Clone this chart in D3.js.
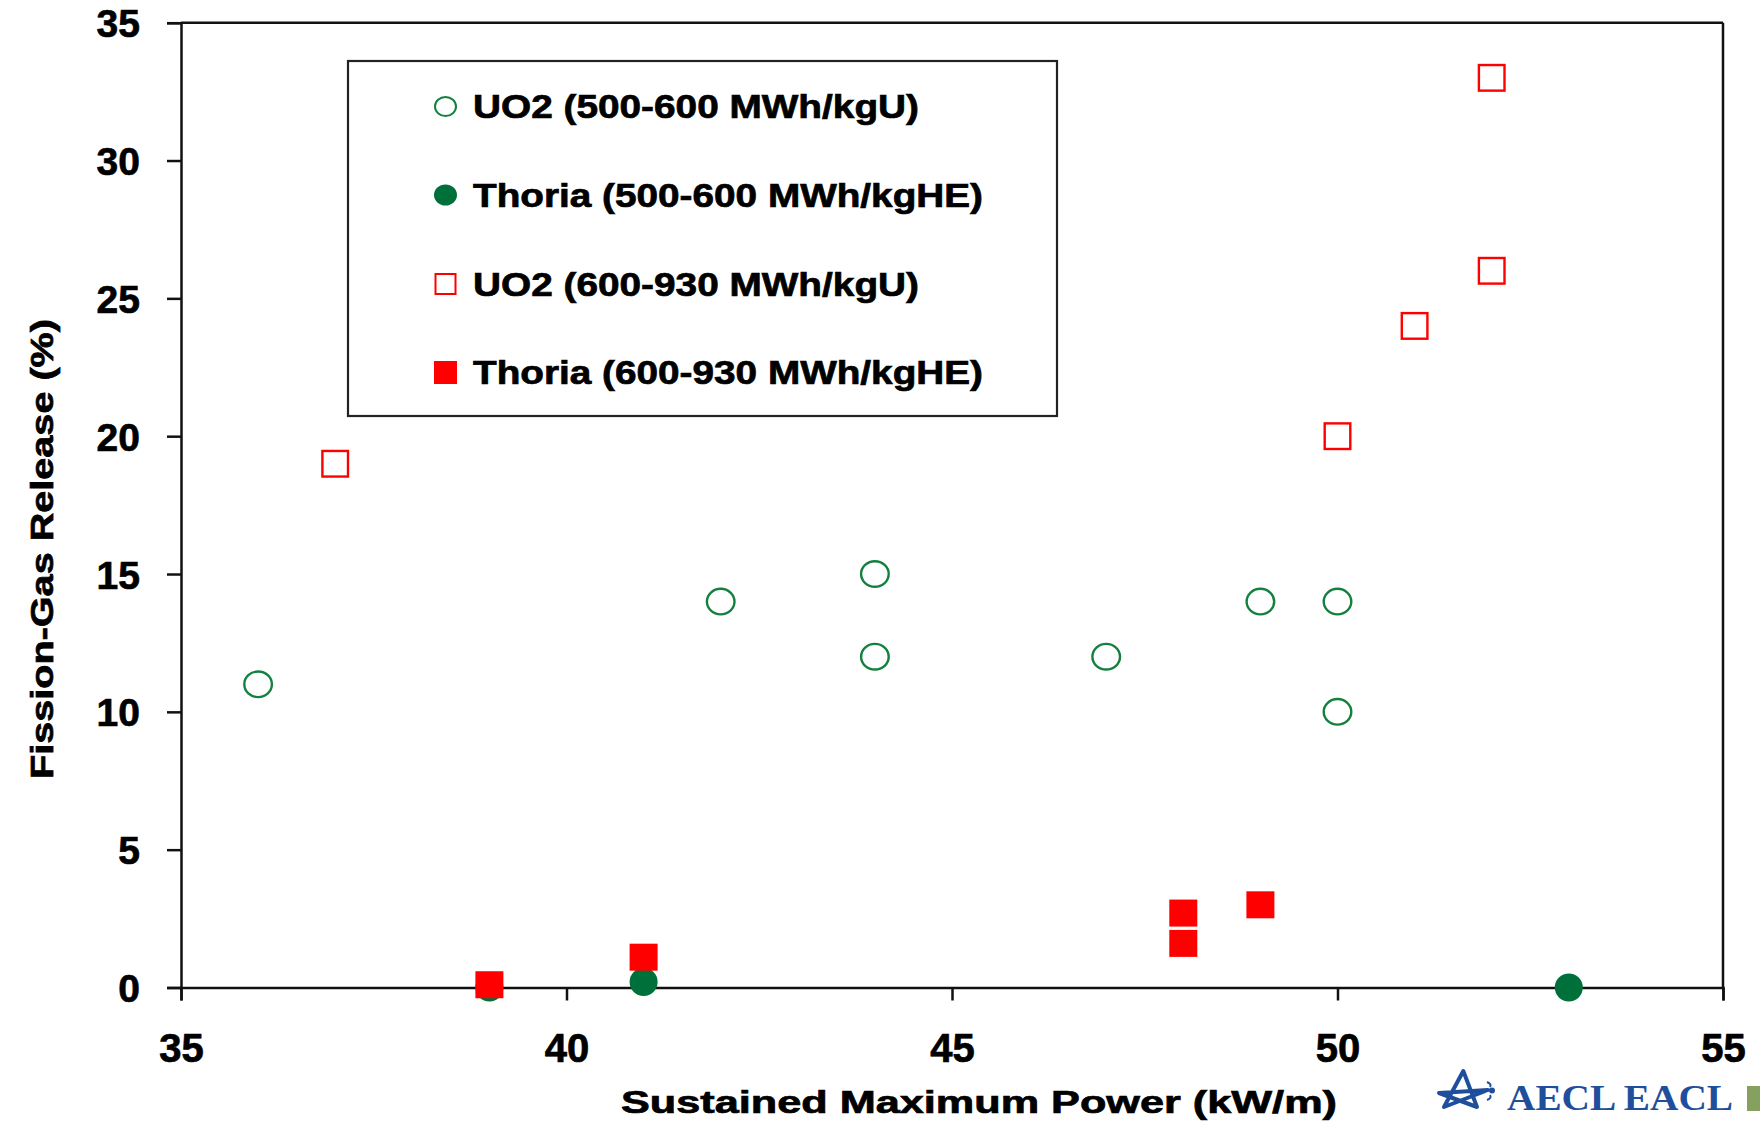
<!DOCTYPE html>
<html>
<head>
<meta charset="utf-8">
<script src="https://cdn.jsdelivr.net/npm/d3@7"></script>
<style>
  html, body { margin: 0; padding: 0; background: #fff; }
  svg { display: block; }
  text { font-family: "Liberation Sans", Arial, Helvetica, sans-serif; font-weight: bold; fill: #000; }
  .heavy { stroke: #000; stroke-width: 0.7px; paint-order: stroke; }
</style>
</head>
<body>
<svg id="chart" width="1760" height="1126"></svg>
<script>
// ---------- data ----------
const seriesNames = [
  "UO2 (500-600 MWh/kgU)",
  "Thoria (500-600 MWh/kgHE)",
  "UO2 (600-930 MWh/kgU)",
  "Thoria (600-930 MWh/kgHE)"
];
const uo2LowX    = [36, 42, 44, 44, 47, 49, 50, 50];
const uo2LowY    = [11, 14, 15, 12, 12, 14, 14, 10];
const thoriaLowX = [39, 41, 53];
const thoriaLowY = [0.0, 0.2, 0.0];
const uo2HighX   = [37, 50, 51, 52, 52];
const uo2HighY   = [19, 20, 24, 26, 33];
const thoriaHighX = [39, 41, 48, 48, 49];
const thoriaHighY = [0.1, 1.1, 1.6, 2.7, 3.0];
const xTicks = [35, 40, 45, 50, 55];
const yTicks = [0, 5, 10, 15, 20, 25, 30, 35];
const xTitle = "Sustained Maximum Power (kW/m)";
const yTitle = "Fission-Gas Release (%)";
const logoText = "AECL EACL";

// ---------- layout ----------
const svg = d3.select("#chart");
const pL = 181, pR = 1723, pT = 22.7, pB = 987.5;
const x = d3.scaleLinear().domain([35, 55]).range([pL, pR]);
const y = d3.scaleLinear().domain([0, 35]).range([pB, pT]);

const GREEN_OPEN = "#14803f";
const GREEN_FILL = "#00703a";
const RED = "#ff0000";
const AXIS = "#111";

// plot border (top & right)
svg.append("line").attr("x1", pL).attr("x2", pR).attr("y1", pT).attr("y2", pT)
  .attr("stroke", AXIS).attr("stroke-width", 2.5);
svg.append("line").attr("x1", pR).attr("x2", pR).attr("y1", pT).attr("y2", pB)
  .attr("stroke", AXIS).attr("stroke-width", 2.5);

// axes
const yAxis = d3.axisLeft(y).tickValues(yTicks).tickSize(14).tickPadding(27).tickFormat(d3.format("d"));
const xAxis = d3.axisBottom(x).tickValues(xTicks).tickSize(13).tickPadding(33).tickFormat(d3.format("d"));

const gy = svg.append("g").attr("transform", `translate(${pL},0)`).call(yAxis);
const gx = svg.append("g").attr("transform", `translate(0,${pB})`).call(xAxis);
[gx, gy].forEach(g => {
  g.select(".domain").attr("stroke", AXIS).attr("stroke-width", 2.5);
  g.selectAll(".tick line").attr("stroke", AXIS).attr("stroke-width", 2.5);
  g.selectAll(".tick text").attr("fill", "#000").attr("class", "heavy")
    .style("font-family", '"Liberation Sans", Arial, sans-serif').style("font-weight", "bold");
});
gy.selectAll(".tick text").style("font-size", "39px").attr("dy", "0.36em");
gx.selectAll(".tick text").style("font-size", "40px").attr("dy", "0.71em");

// axis titles
svg.append("text").attr("class", "heavy").attr("x", 621).attr("y", 1113)
  .style("font-size", "31px").attr("textLength", 716).attr("lengthAdjust", "spacingAndGlyphs")
  .text(xTitle);
svg.append("text").attr("class", "heavy").attr("transform", "translate(53,549) rotate(-90)")
  .attr("text-anchor", "middle")
  .style("font-size", "32px").attr("textLength", 460).attr("lengthAdjust", "spacingAndGlyphs")
  .text(yTitle);

// ---------- data marks ----------
const zip = (xs, ys) => xs.map((v, i) => ({x: v, y: ys[i]}));
const sq = 28;

// Thoria low (filled green circles) drawn first (hidden under red square at 39)
svg.append("g").selectAll("circle").data(zip(thoriaLowX, thoriaLowY)).join("circle")
  .attr("cx", d => x(d.x)).attr("cy", d => y(d.y)).attr("r", 14)
  .attr("fill", GREEN_FILL);

// UO2 low (open green circles)
svg.append("g").selectAll("ellipse").data(zip(uo2LowX, uo2LowY)).join("ellipse")
  .attr("cx", d => x(d.x)).attr("cy", d => y(d.y)).attr("rx", 13.8).attr("ry", 12.8)
  .attr("fill", "none").attr("stroke", GREEN_OPEN).attr("stroke-width", 2.4);

// UO2 high (open red squares)
svg.append("g").selectAll("rect").data(zip(uo2HighX, uo2HighY)).join("rect")
  .attr("x", d => x(d.x) - (sq - 2.4) / 2).attr("y", d => y(d.y) - (sq - 2.4) / 2)
  .attr("width", sq - 2.4).attr("height", sq - 2.4)
  .attr("fill", "none").attr("stroke", RED).attr("stroke-width", 2.4);

// Thoria high (filled red squares)
svg.append("g").selectAll("rect").data(zip(thoriaHighX, thoriaHighY)).join("rect")
  .attr("x", d => x(d.x) - sq / 2).attr("y", d => y(d.y) - 13.5)
  .attr("width", sq).attr("height", 27).attr("fill", RED);

// ---------- legend ----------
const lg = svg.append("g");
lg.append("rect").attr("x", 348).attr("y", 61).attr("width", 709).attr("height", 355)
  .attr("fill", "#fff").attr("stroke", "#222").attr("stroke-width", 2.2);
const rowY = [106.5, 195, 284, 372.5];
const textLens = [446, 510, 446, 510];
const mx = 445.5;
seriesNames.forEach((name, i) => {
  const cy = rowY[i];
  if (i === 0) {
    lg.append("ellipse").attr("cx", mx).attr("cy", cy).attr("rx", 10.5).attr("ry", 9.5)
      .attr("fill", "none").attr("stroke", GREEN_OPEN).attr("stroke-width", 2);
  } else if (i === 1) {
    lg.append("ellipse").attr("cx", mx).attr("cy", cy).attr("rx", 11.5).attr("ry", 10.5)
      .attr("fill", GREEN_FILL);
  } else if (i === 2) {
    lg.append("rect").attr("x", mx - 10).attr("y", cy - 10).attr("width", 20).attr("height", 20)
      .attr("fill", "none").attr("stroke", RED).attr("stroke-width", 2);
  } else {
    lg.append("rect").attr("x", mx - 11.5).attr("y", cy - 11.5).attr("width", 23).attr("height", 23)
      .attr("fill", RED);
  }
  lg.append("text").attr("class", "heavy").attr("x", 473).attr("y", cy + 11.8)
    .style("font-size", "33px").attr("textLength", textLens[i]).attr("lengthAdjust", "spacingAndGlyphs")
    .text(name);
});

// ---------- logo ----------
const LOGO = "#1f4f9c";
const logo = svg.append("g").attr("transform", "translate(1430,1060)");
logo.append("path")
  .attr("d", "M14,47 L33.3,11 L47,47 L9,33 L58,30 Z")
  .attr("fill", "none").attr("stroke", LOGO).attr("stroke-width", 4).attr("stroke-linejoin", "round");
logo.append("circle").attr("cx", 62).attr("cy", 30.5).attr("r", 3).attr("fill", LOGO);
logo.append("path").attr("d", "M57,22 Q62,24 60,27 M57,40 Q62,38 60,35")
  .attr("fill", "none").attr("stroke", LOGO).attr("stroke-width", 2);
svg.append("text").attr("x", 1507).attr("y", 1110)
  .style("font-family", '"Liberation Serif", "Times New Roman", serif').style("font-weight", "bold")
  .style("font-size", "36px").style("fill", LOGO)
  .attr("textLength", 226).attr("lengthAdjust", "spacingAndGlyphs")
  .text(logoText);
svg.append("rect").attr("x", 1747).attr("y", 1086).attr("width", 13).attr("height", 25)
  .attr("fill", "#86a060");
</script>
</body>
</html>
